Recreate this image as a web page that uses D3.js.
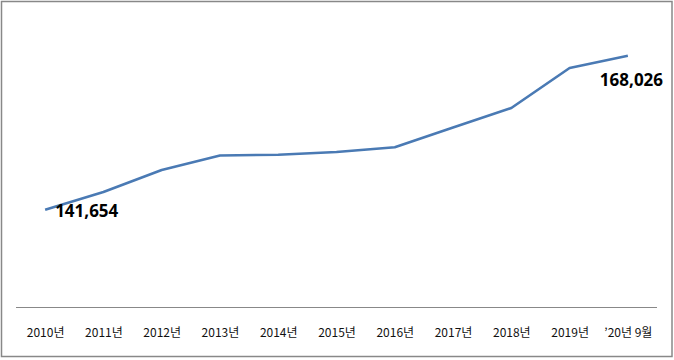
<!DOCTYPE html>
<html><head><meta charset="utf-8">
<script src="https://cdn.jsdelivr.net/npm/d3@7"></script>
<style>html,body{margin:0;padding:0;background:#fff;}svg{display:block;}</style>
</head><body>
<svg id="chart" width="674" height="360"></svg>
<script>
const categories = ["2010년","2011년","2012년","2013년","2014년","2015년","2016년","2017년","2018년","2019년","’20년 9월"];
const values = [141654,144690,148460,150940,151080,151540,152350,155740,159080,165930,168026];
const yDomain = [125000, 175000];

const svg = d3.select("#chart");
svg.append("rect").attr("x",1.5).attr("y",1.5).attr("width",670.5).attr("height",355)
  .attr("fill","#fff").attr("stroke","#888").attr("stroke-width",1.5);

const x = d3.scalePoint().domain(categories).range([16,657]).padding(0.5);
const y = d3.scaleLinear().domain(yDomain).range([307,15]);

const xAxis = d3.axisBottom(x).tickSize(0).tickPadding(0);
const ax = svg.append("g").attr("transform","translate(0,307)").call(xAxis);
ax.select(".domain").attr("stroke","#888").attr("stroke-width",1.2).attr("d","M16,0.5H657");
ax.selectAll("text").attr("dy",null).attr("y",30)
  .attr("font-family","'Noto Sans CJK KR', sans-serif").attr("font-size",12).attr("fill","#111");

const line = d3.line().x((d,i)=>x(categories[i])).y(d=>y(d));
svg.append("path").datum(values).attr("d",line)
  .attr("fill","none").attr("stroke","#4a7ab4").attr("stroke-width",2.6).attr("stroke-linejoin","round");

const fmt = d3.format(",");
const first = 0, last = values.length-1;
svg.append("text").attr("x",x(categories[first])+10).attr("y",y(values[first])+7)
  .attr("font-family","'Noto Sans', sans-serif").attr("font-weight","bold").attr("font-size",17)
  .attr("fill","#000").text(fmt(values[first]));
svg.append("text").attr("x",x(categories[last])-28).attr("y",y(values[last])+30)
  .style("text-anchor","start")
  .attr("font-family","'Noto Sans', sans-serif").attr("font-weight","bold").attr("font-size",17)
  .attr("fill","#000").text(fmt(values[last]));
</script>
</body></html>
